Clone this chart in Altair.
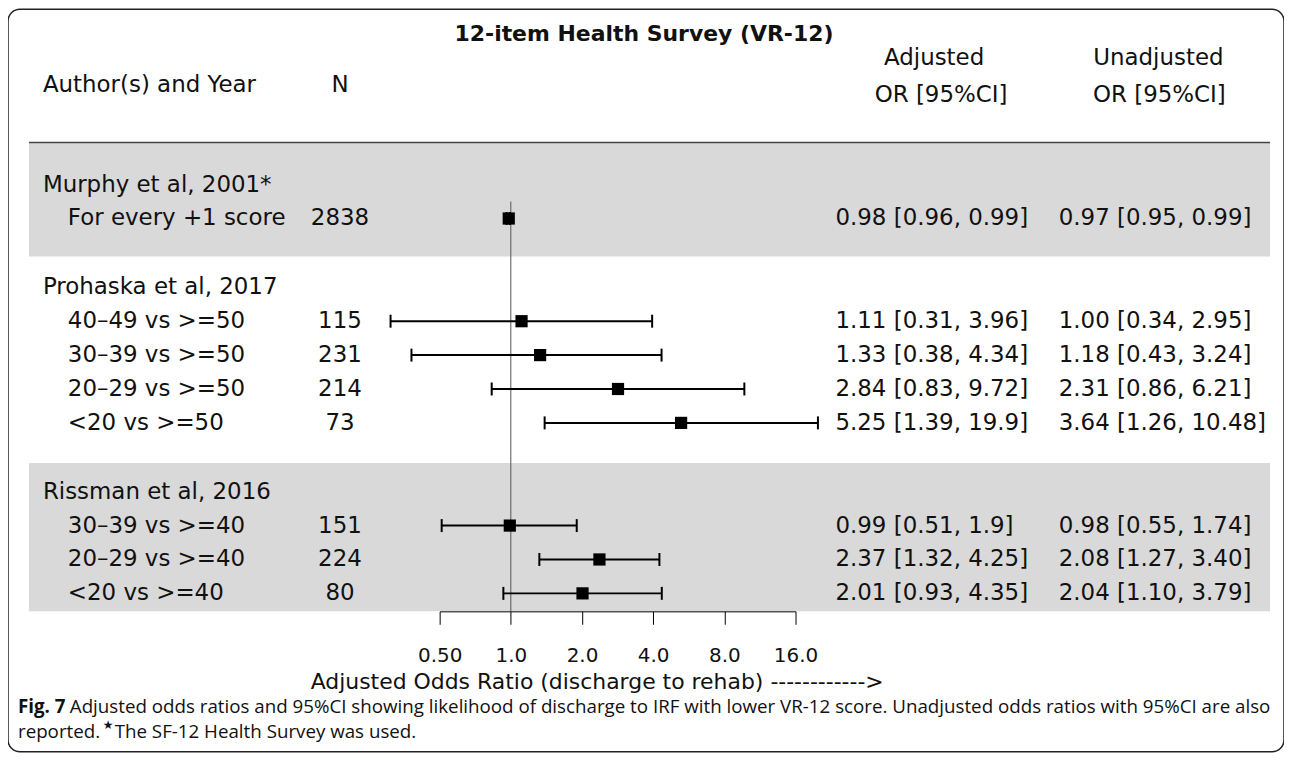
import altair as alt
import pandas as pd

# ---------------- data ----------------
study_names = ["Murphy et al, 2001*", "Prohaska et al, 2017", "Rissman et al, 2016"]
row_study = [0, 1, 1, 1, 1, 2, 2, 2]
row_labels = ["For every +1 score", "40–49 vs >=50", "30–39 vs >=50", "20–29 vs >=50",
              "<20 vs >=50", "30–39 vs >=40", "20–29 vs >=40", "<20 vs >=40"]
n_values = [2838, 115, 231, 214, 73, 151, 224, 80]
adj_or = [0.98, 1.11, 1.33, 2.84, 5.25, 0.99, 2.37, 2.01]
adj_lo = [0.96, 0.31, 0.38, 0.83, 1.39, 0.51, 1.32, 0.93]
adj_hi = [0.99, 3.96, 4.34, 9.72, 19.9, 1.9, 4.25, 4.35]
adj_text = ["0.98 [0.96, 0.99]", "1.11 [0.31, 3.96]", "1.33 [0.38, 4.34]",
            "2.84 [0.83, 9.72]", "5.25 [1.39, 19.9]", "0.99 [0.51, 1.9]",
            "2.37 [1.32, 4.25]", "2.01 [0.93, 4.35]"]
unadj_text = ["0.97 [0.95, 0.99]", "1.00 [0.34, 2.95]", "1.18 [0.43, 3.24]",
              "2.31 [0.86, 6.21]", "3.64 [1.26, 10.48]", "0.98 [0.55, 1.74]",
              "2.08 [1.27, 3.40]", "2.04 [1.10, 3.79]"]
shaded_studies = [0, 2]
tick_values = [0.5, 1, 2, 4, 8, 16]
tick_labels = ["0.50", "1.0", "2.0", "4.0", "8.0", "16.0"]

title_text = "12-item Health Survey (VR-12)"
col_author = "Author(s) and Year"
col_n = "N"
col_adj = ["Adjusted", "OR [95%CI]"]
col_unadj = ["Unadjusted", "OR [95%CI]"]
x_title = "Adjusted Odds Ratio (discharge to rehab) ------------>"
cap_bold = "Fig. 7"
cap_line1 = "Adjusted odds ratios and 95%CI showing likelihood of discharge to IRF with lower VR-12 score. Unadjusted odds ratios with 95%CI are also"
cap_line2a = "reported."
cap_star = "★"
cap_line2b = "The SF-12 Health Survey was used."

# ---------------- layout (row units) ----------------
GAP = 2.03
header_pos, row_pos, last_row = [], [], {}
pos = 0.0
for s in range(len(study_names)):
    if s > 0:
        pos = pos + GAP
    header_pos.append(pos)
    for rs in row_study:
        if rs == s:
            pos += 1
            row_pos.append(pos)
    last_row[s] = pos
axis_p = row_pos[-1] + 0.53
band_pad = {0: (1.24, 1.12), 2: (0.85, 0.53)}
band_df = pd.DataFrame({
    "top": [header_pos[s] - band_pad[s][0] for s in shaded_studies],
    "bottom": [min(last_row[s] + band_pad[s][1], axis_p) for s in shaded_studies],
})

rows_df = pd.DataFrame({"p": row_pos, "label": row_labels, "n": n_values,
                        "or": adj_or, "lo": adj_lo, "hi": adj_hi,
                        "adj": adj_text, "unadj": unadj_text})
head_df = pd.DataFrame({"p": header_pos, "name": study_names})
ref_df = pd.DataFrame({"x": [1.0], "y1": [row_pos[0] - 0.5], "y2": [axis_p]})

W, H = 1280, 745
FONT = "DejaVu Sans"
CAPFONT = "Open Sans"
FS = 23
CFS = 18.8
TXT = "#111111"

ROW_PX = 34.0
Y0 = 176.0
y_scale = alt.Scale(domain=[0, 12], range=[Y0, Y0 + 12 * ROW_PX], nice=False, zero=False)
x_scale = alt.Scale(type="log", base=2, domain=[0.5, 16], range=[433, 790], nice=False)
axis_y_px = Y0 + axis_p * ROW_PX

label_expr = " : ".join(f"datum.value == {v} ? '{l}'" for v, l in zip(tick_values, tick_labels)) + " : ''"
x_axis = alt.Axis(values=tick_values, labelExpr=label_expr, title=None, grid=False,
                  offset=axis_y_px - H, domainColor="#000000", tickColor="#000000",
                  tickSize=13, tickWidth=1, domainWidth=1, labelFont=FONT,
                  labelFontSize=20, labelColor=TXT, labelPadding=21,
                  labelFlush=False, labelOverlap=False, zindex=1)


def X(f):
    return alt.X(f, scale=x_scale, axis=x_axis)


def Y(f):
    return alt.Y(f, scale=y_scale, axis=None)


bands = alt.Chart(band_df).mark_rect(color="#d9d9d9").encode(
    x=alt.value(21), x2=alt.value(1266), y=Y("top:Q"), y2="bottom:Q")
sep = alt.Chart(band_df.iloc[[0]]).mark_rule(color="#444444", strokeWidth=1.5).encode(
    x=alt.value(21), x2=alt.value(1266), y=Y("top:Q"))
ref = alt.Chart(ref_df).mark_rule(color="#555555", strokeWidth=1).encode(
    x=X("x:Q"), y=Y("y1:Q"), y2="y2:Q")

base = alt.Chart(rows_df)
ci = base.mark_rule(color="black", strokeWidth=2).encode(
    x=X("lo:Q"), x2="hi:Q", y=Y("p:Q"))
caps = base.transform_fold(["lo", "hi"], as_=["k", "v"]).mark_tick(
    orient="vertical", size=13, thickness=2, color="black", opacity=1).encode(
    x=X("v:Q"), y=Y("p:Q"))
squares = base.mark_square(size=150, color="black", opacity=1, filled=True).encode(
    x=X("or:Q"), y=Y("p:Q"))


def txt(align="left", bold=False, size=FS, font=FONT):
    return dict(align=align, baseline="middle", font=font, fontSize=size,
                fontWeight="bold" if bold else "normal", color=TXT)


heads = alt.Chart(head_df).mark_text(**txt()).encode(x=alt.value(35), y=Y("p:Q"), text="name:N")
labels = base.mark_text(**txt()).encode(x=alt.value(60), y=Y("p:Q"), text="label:N")
ns = base.mark_text(**txt("center")).encode(x=alt.value(333), y=Y("p:Q"), text="n:N")
adj = base.mark_text(**txt()).encode(x=alt.value(830), y=Y("p:Q"), text="adj:N")
unadj = base.mark_text(**txt()).encode(x=alt.value(1054), y=Y("p:Q"), text="unadj:N")


def fixed(text, x, y, **kw):
    return alt.Chart(pd.DataFrame({"t": [text]})).mark_text(**kw).encode(
        text="t:N", x=alt.value(x), y=alt.value(y))


headers = [
    fixed(title_text, 638, 25, **txt("center", bold=True, size=22)),
    fixed(col_author, 35, 76, **txt()),
    fixed(col_n, 333, 76, **txt("center")),
    fixed(col_adj[0], 929, 49, **txt("center")),
    fixed(col_adj[1], 936, 86, **txt("center")),
    fixed(col_unadj[0], 1154, 49, **txt("center")),
    fixed(col_unadj[1], 1155, 86, **txt("center")),
    fixed(x_title, 591, 675, **txt("center", size=22)),
    fixed(cap_bold, 10, 700, **txt(bold=True, size=CFS, font=CAPFONT)),
    fixed(cap_line1, 62, 700, **txt(size=CFS, font=CAPFONT)),
    fixed(cap_line2a, 10, 725, **txt(size=CFS, font=CAPFONT)),
    fixed(cap_star, 95, 718, **txt(size=12, font=FONT)),
    fixed(cap_line2b, 107, 725, **txt(size=CFS, font=CAPFONT)),
]

chart = alt.layer(bands, sep, ref, ci, caps, squares, heads, labels, ns, adj, unadj, *headers).properties(
    width=W, height=H, padding=0, autosize=alt.AutoSizeParams(type="none"),
    background="white"
).configure_view(stroke="#222222", strokeWidth=1.5, cornerRadius=12)

chart.save("out.html", embed_options={"renderer": "svg", "actions": False})
